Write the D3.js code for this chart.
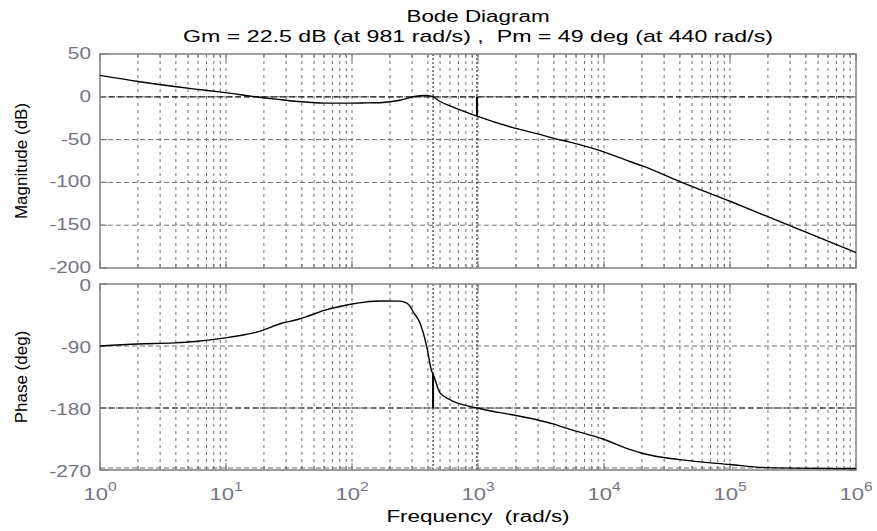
<!DOCTYPE html>
<html>
<head>
<meta charset="utf-8">
<script src="https://cdn.jsdelivr.net/npm/d3@7"></script>
<style>
  html, body { margin: 0; padding: 0; background: #fff; }
  svg { display: block; font-family: "Liberation Sans", Arial, sans-serif; }
  text { white-space: pre; }
</style>
</head>
<body>
<svg id="chart" width="877" height="531"></svg>
<script>
// Open-loop frequency response samples (rad/s, dB, deg)
const freq = [1, 2, 3.9, 5.7, 9.2, 19, 27.6, 37, 45, 61, 100, 122, 150, 176, 240, 270, 288, 305, 347, 392, 428, 440, 500, 600, 981, 1960, 2920, 3940, 5370, 9800, 16000, 20400, 40000, 1e5, 1.95e5, 1e6];
const magnitude = [25, 17.9, 12, 9, 5.5, -0.8, -3.5, -5.5, -6.4, -7.4, -7.4, -7.2, -7, -6.6, -4, -2.2, -1, 0, 1.2, 1.6, 0.5, 0, -5.5, -10.5, -22.5, -36.6, -43, -48.3, -53, -64, -75.6, -81, -99, -122, -139.5, -182];
const phase = [-90, -87, -85.5, -83.5, -79, -68, -57, -51.5, -46.5, -38, -29, -26.6, -25, -24.7, -24.9, -27.5, -32, -40, -57, -91, -126, -131, -158, -168, -180, -190.6, -197, -203, -211, -225, -240, -246, -255, -262, -266.5, -268];

// Stability margins
const gainMargin = { value: 22.5, freq: 981 };
const phaseMargin = { value: 49, freq: 440 };

// Axis ticks
const freqDomain = [1, 1e6];
const magTicks = [50, 0, -50, -100, -150, -200];
const phaseTicks = [0, -90, -180, -270];
const decadeExponents = [0, 1, 2, 3, 4, 5, 6];

const titleText = "Bode Diagram";
const subtitleText = "Gm = 22.5 dB (at 981 rad/s) ,  Pm = 49 deg (at 440 rad/s)";
const xLabel = "Frequency  (rad/s)";
const magLabel = "Magnitude (dB)";
const phaseLabel = "Phase (deg)";

const svg = d3.select("#chart");
const left = 100, right = 856;
const magPanel = { top: 54, bottom: 268, domain: [-200, 50], labelDy: 5, edgeGrid: false };
const phasePanel = { top: 284, bottom: 470, domain: [-270, 0], labelDy: 7, edgeGrid: true };

const x = d3.scaleLog().domain(freqDomain).range([left, right]);
const yMag = d3.scaleLinear().domain(magPanel.domain).range([magPanel.bottom, magPanel.top]);
const yPh = d3.scaleLinear().domain(phasePanel.domain).range([phasePanel.bottom, phasePanel.top]);

const gridColor = "#6e6e6e";
const frameColor = "#808080";
const tickTextColor = "#747480";
const SX = 1.3; // horizontal glyph stretch

// all log tick positions (decades and 2..9 multiples)
const logTicks = [];
for (let e = 0; e < 6; e++) {
  for (let m = 1; m <= 9; m++) logTicks.push(m * Math.pow(10, e));
}
logTicks.push(1e6);

function stretchedText(g, tx, ty, txt, size, anchor, color, sx) {
  return g.append("text")
    .attr("transform", `translate(${tx},${ty}) scale(${sx},1)`)
    .attr("text-anchor", anchor)
    .attr("font-size", size)
    .attr("fill", color)
    .text(txt);
}

function drawPanel(panel, y, ticks, values, refLevel) {
  const g = svg.append("g");
  const top = panel.top, bottom = panel.bottom;

  // vertical grid at every log tick
  g.selectAll("line.vgrid").data(logTicks.filter(f => f > 1 && f < 1e6)).enter()
    .append("line")
    .attr("x1", d => x(d)).attr("x2", d => x(d))
    .attr("y1", top).attr("y2", bottom)
    .attr("stroke", gridColor).attr("stroke-width", 1)
    .attr("stroke-dasharray", "3,4");

  // horizontal grid at value ticks
  g.selectAll("line.hgrid").data(ticks.filter(t => y(t) > top + 0.5 && y(t) < bottom - 0.5)).enter()
    .append("line")
    .attr("x1", left).attr("x2", right)
    .attr("y1", d => y(d)).attr("y2", d => y(d))
    .attr("stroke", gridColor).attr("stroke-width", 1)
    .attr("stroke-dasharray", "5,3");

  if (panel.edgeGrid) {
    g.append("line")
      .attr("x1", left).attr("x2", right)
      .attr("y1", bottom - 2).attr("y2", bottom - 2)
      .attr("stroke", gridColor).attr("stroke-width", 1)
      .attr("stroke-dasharray", "5,3");
  }

  // reference level (0 dB / -180 deg)
  g.append("line")
    .attr("x1", left).attr("x2", right)
    .attr("y1", y(refLevel)).attr("y2", y(refLevel))
    .attr("stroke", "#222").attr("stroke-width", 1.2)
    .attr("stroke-dasharray", "6,3");

  // crossover frequency markers
  [phaseMargin.freq, gainMargin.freq].forEach(f => {
    g.append("line")
      .attr("x1", x(f)).attr("x2", x(f))
      .attr("y1", top).attr("y2", bottom)
      .attr("stroke", "#333").attr("stroke-width", 1.2)
      .attr("stroke-dasharray", "2,2");
  });

  // frame
  g.append("rect")
    .attr("x", left).attr("y", top)
    .attr("width", right - left).attr("height", bottom - top)
    .attr("fill", "none").attr("stroke", frameColor).attr("stroke-width", 1.5);

  // inward ticks on all edges
  logTicks.forEach(f => {
    const isDecade = Math.abs(Math.log10(f) - Math.round(Math.log10(f))) < 1e-9;
    const len = isDecade ? 7 : 4;
    g.append("line").attr("x1", x(f)).attr("x2", x(f)).attr("y1", bottom).attr("y2", bottom - len)
      .attr("stroke", frameColor).attr("stroke-width", 1.2);
    g.append("line").attr("x1", x(f)).attr("x2", x(f)).attr("y1", top).attr("y2", top + len)
      .attr("stroke", frameColor).attr("stroke-width", 1.2);
  });
  ticks.forEach(t => {
    g.append("line").attr("x1", left).attr("x2", left + 7).attr("y1", y(t)).attr("y2", y(t))
      .attr("stroke", frameColor).attr("stroke-width", 1.2);
    g.append("line").attr("x1", right).attr("x2", right - 7).attr("y1", y(t)).attr("y2", y(t))
      .attr("stroke", frameColor).attr("stroke-width", 1.2);
  });

  // tick labels
  ticks.forEach(t => {
    stretchedText(g, 91, y(t) + panel.labelDy, String(t), 16, "end", tickTextColor, SX);
  });

  // response curve
  const line = d3.line()
    .x((d, i) => x(freq[i]))
    .y(d => y(d))
    .curve(d3.curveMonotoneX);
  g.append("path")
    .datum(values)
    .attr("d", line)
    .attr("fill", "none")
    .attr("stroke", "#000")
    .attr("stroke-width", 1.4);
  return g;
}

const gMag = drawPanel(magPanel, yMag, magTicks, magnitude, 0);
const gPh = drawPanel(phasePanel, yPh, phaseTicks, phase, -180);

// gain margin indicator
gMag.append("line")
  .attr("x1", x(gainMargin.freq)).attr("x2", x(gainMargin.freq))
  .attr("y1", yMag(0)).attr("y2", yMag(-gainMargin.value))
  .attr("stroke", "#000").attr("stroke-width", 2);

// phase margin indicator
gPh.append("line")
  .attr("x1", x(phaseMargin.freq)).attr("x2", x(phaseMargin.freq))
  .attr("y1", yPh(-180)).attr("y2", yPh(-180 + phaseMargin.value))
  .attr("stroke", "#000").attr("stroke-width", 2);

// frequency tick labels 10^n
decadeExponents.forEach(e => {
  const t = svg.append("text")
    .attr("transform", `translate(${x(Math.pow(10, e))},500) scale(${SX},1)`)
    .attr("text-anchor", "middle")
    .attr("font-size", 17)
    .attr("fill", tickTextColor);
  t.append("tspan").text("10");
  t.append("tspan").attr("dy", -9).attr("font-size", 12).text(String(e));
});

// titles
stretchedText(svg, (left + right) / 2, 22, titleText, 16, "middle", "#000", 1.4);
stretchedText(svg, (left + right) / 2, 42, subtitleText, 16, "middle", "#000", 1.45);
stretchedText(svg, (left + right) / 2, 522, xLabel, 17, "middle", "#000", 1.32);

svg.append("text")
  .attr("transform", `translate(27,${(magPanel.top + magPanel.bottom) / 2}) rotate(-90)`)
  .attr("text-anchor", "middle").attr("font-size", 17).attr("fill", "#000")
  .text(magLabel);
svg.append("text")
  .attr("transform", `translate(27,${(phasePanel.top + phasePanel.bottom) / 2}) rotate(-90)`)
  .attr("text-anchor", "middle").attr("font-size", 17).attr("fill", "#000")
  .text(phaseLabel);
</script>
</body>
</html>
